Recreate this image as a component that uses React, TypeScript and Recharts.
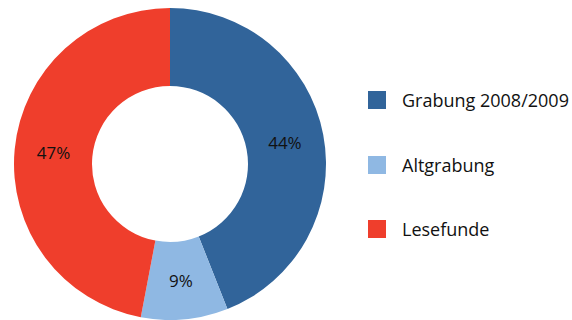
import { PieChart, Pie, Cell, Legend } from 'recharts'

const categories = ['Grabung 2008/2009', 'Altgrabung', 'Lesefunde']
const values = [44, 9, 47]
const colors = ['#31649a', '#8fb8e3', '#ef3e2c']

const data = categories.map((name, i) => ({ name, value: values[i] }))

const RAD = Math.PI / 180

function renderLabel(props: any) {
  const { cx, cy, midAngle, innerRadius, outerRadius, percent } = props
  const r = (innerRadius + outerRadius) / 2
  const x = cx + r * Math.cos(-midAngle * RAD)
  const y = cy + r * Math.sin(-midAngle * RAD)
  return (
    <text x={x} y={y} fill="#111" fontSize={17} textAnchor="middle" dominantBaseline="central">
      {Math.round(percent * 100)}%
    </text>
  )
}

function LegendContent() {
  return (
    <div>
      {data.map((d, i) => (
        <div key={d.name} style={{ display: 'flex', alignItems: 'center', height: 18, marginBottom: i < data.length - 1 ? 46.5 : 0 }}>
          <div style={{ width: 18, height: 18, background: colors[i], marginRight: 16 }} />
          <span style={{ fontSize: 18, color: '#111', whiteSpace: 'nowrap' }}>{d.name}</span>
        </div>
      ))}
    </div>
  )
}

export default function App() {
  return (
    <div style={{ position: 'absolute', left: 0, top: 0, fontFamily: '"Open Sans", sans-serif' }}>
      <PieChart width={572} height={320}>
        <Pie
          data={data}
          dataKey="value"
          cx={165}
          cy={159}
          innerRadius={78}
          outerRadius={156}
          startAngle={90}
          endAngle={-270}
          stroke="none"
          label={renderLabel}
          labelLine={false}
          isAnimationActive={false}
        >
          {data.map((d, i) => <Cell key={d.name} fill={colors[i]} />)}
        </Pie>
        <Legend
          layout="vertical"
          content={<LegendContent />}
          wrapperStyle={{ left: 368, top: 91, width: 204 }}
        />
      </PieChart>
    </div>
  )
}
